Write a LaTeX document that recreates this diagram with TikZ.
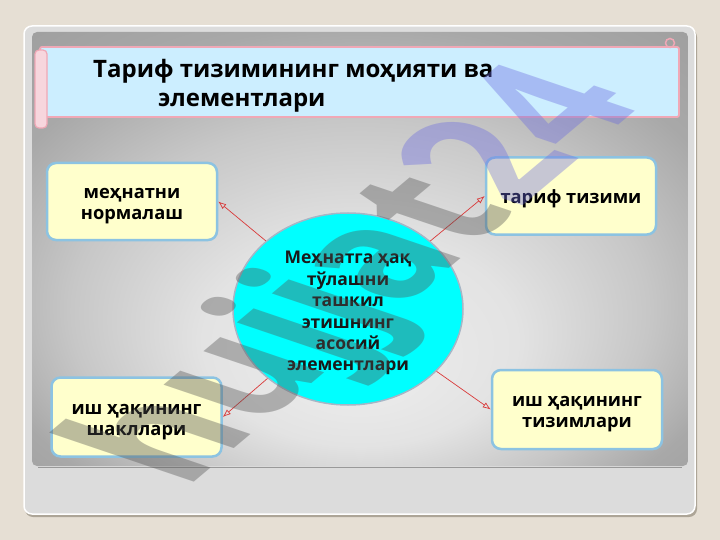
\documentclass[tikz,border=0pt]{standalone}
\usepackage{fontspec}
\setmainfont{Open Sans}
\usetikzlibrary{arrows.meta,shapes.geometric}
\definecolor{bg}{HTML}{E6DFD4}
\definecolor{panel}{HTML}{DCDCDC}
\definecolor{panelshadow}{HTML}{ADA597}
\definecolor{bannerfill}{HTML}{CCEEFF}
\definecolor{bannerline}{HTML}{F0A8B6}
\definecolor{rollfill}{HTML}{F7D6DD}
\definecolor{boxfill}{HTML}{FFFFCC}
\definecolor{boxline}{HTML}{8CC3E2}
\definecolor{circfill}{HTML}{00FFFF}
\definecolor{circline}{HTML}{A6B6C6}
\definecolor{arrred}{HTML}{D93A3A}
\definecolor{wmgray}{HTML}{505050}
\definecolor{wmblue}{HTML}{6A6AE0}
\pgfdeclareradialshading{panelr}{\pgfpoint{0bp}{-15bp}}{%
  color(0bp)=(white!93!black); color(12bp)=(white!89!black);
  color(22bp)=(white!78!black); color(30bp)=(white!66!black);
  color(42bp)=(white!60!black)}
\newcommand\boxup{\rule{0pt}{20pt}}
\newcommand\hubup{\rule{0pt}{21pt}}
\tikzset{
  box/.style={draw=boxline, line width=2.5pt, fill=boxfill, rounded corners=9pt,
    inner sep=0pt, minimum width=170, minimum height=77, align=center,
    font=\fontsize{18.3}{21}\selectfont\bfseries, text=black},
  hub/.style={ellipse, draw=circline, line width=1.5pt, fill=circfill,
    inner sep=0pt, minimum width=230, minimum height=192, align=center,
    font=\fontsize{17.5}{21.4}\selectfont\bfseries, text=black!90},
  arr/.style={draw=arrred, line width=0.7pt, -{Latex[open,length=8pt,width=6pt]}},
  ttl/.style={anchor=base west, inner sep=0pt, font=\fontsize{24}{29}\selectfont\bfseries, text=black}
}
\begin{document}
\begin{tikzpicture}[x=1pt,y=-1pt]
\useasboundingbox (0,0) rectangle (720,540);
\fill[bg] (0,0) rectangle (720,540);
% outer panel
\fill[panelshadow, rounded corners=8pt] (25,29) rectangle (697,517);
\fill[panel, draw=white, line width=1.5pt, rounded corners=8pt] (24,26) rectangle (695,514);
% inner panel
\shade[shading=panelr, rounded corners=5pt] (32,32) rectangle (688,466);
\draw[white!60!black, line width=0.8pt] (38,467) -- (682,467);
% title banner
\draw[fill=bannerfill, draw=bannerline, line width=1.8pt, rounded corners=2pt] (40,47) rectangle (679,117);
\draw[fill=rollfill, draw=bannerline, line width=1.2pt, rounded corners=4pt] (35,50) rectangle (47,128);
\draw[bannerline, line width=1.5pt] (670,43) circle (4.5);
\node[ttl] (t1) at (93,78) {Тариф тизимининг моҳияти ва};
\node[ttl] (t2) at (158,107) {элементлари};
% boxes
\node[box] (tl) at (132,201.5) {\boxup меҳнатни\\нормалаш};
\node[box] (tr) at (571,196) {\boxup тариф тизими};
\node[box, minimum height=79] (bl) at (136.5,417) {\boxup иш ҳақининг\\шакллари};
\node[box, minimum height=79] (br) at (577,409.5) {\boxup иш ҳақининг\\тизимлари};
% hub
\node[hub] (c) at (348,309) {\hubup Меҳнатга ҳақ\\тўлашни\\ташкил\\этишнинг\\асосий\\элементлари};
% arrows
\draw[arr] (c) -- (tl.east);
\draw[arr] (c) -- (tr.west);
\draw[arr] (c) -- (bl.east);
\draw[arr] (c) -- (br.west);
% watermark
\node[anchor=base west, inner sep=0pt, cm={0.75,0.63,-1.27,0.43,(0,0)},
  font=\fontsize{150}{150}\selectfont\bfseries, text opacity=0.38] (wm) at (185,490)
  {\textcolor{wmgray}{hujjat}\textcolor{wmblue}{24}};
\end{tikzpicture}
\end{document}
